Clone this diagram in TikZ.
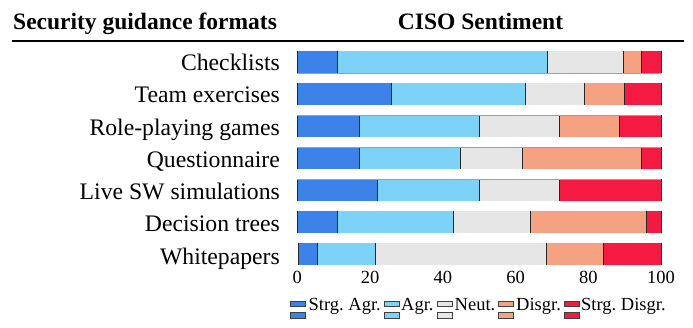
\documentclass[tikz,border=0pt]{standalone}
\usepackage{fontspec}
\setmainfont{Liberation Serif}
\frenchspacing

% Likert answer colours
\definecolor{sagr}{RGB}{61,130,232}
\definecolor{agr}{RGB}{124,211,247}
\definecolor{neut}{RGB}{229,230,229}
\definecolor{disgr}{RGB}{244,162,130}
\definecolor{sdisgr}{RGB}{245,26,66}

\begin{document}
\begin{tikzpicture}[x=1pt,y=-1pt,
  headtext/.style={inner sep=0pt,font=\fontsize{23.5}{28}\bfseries\selectfont},
  rowlabel/.style={anchor=base east,inner sep=0pt,font=\fontsize{23.7}{28}\selectfont},
  ticklabel/.style={anchor=base,inner sep=0pt,font=\fontsize{18.5}{22}\selectfont},
  legtext/.style={anchor=base west,inner sep=0pt,font=\fontsize{18.5}{22}\selectfont},
  sepline/.style={draw=black!85,line width=1pt},
  edgeline/.style={draw=gray!75,line width=0.9pt},
  legbox/.style={draw=black!75,line width=0.7pt}]
\useasboundingbox (0,0) rectangle (693,328);

% header
\node[headtext,anchor=base west] (hfmt) at (13,30) {Security guidance formats};
\node[headtext,anchor=base] (hciso) at (480.5,30) {CISO Sentiment};
\draw[line width=1.3pt] (12,41) -- (684,41);

% row labels
\foreach \name [count=\i from 0] in {Checklists,Team exercises,Role-playing games,Questionnaire,Live SW simulations,Decision trees,Whitepapers}
  \node[rowlabel] (row\i) at (280,{70.7+32.25*\i}) {\name};

% stacked bars, one unit = one percent
\begin{scope}[shift={(297.3,0)},x=3.637pt]
\foreach \s/\p/\q/\r/\t [count=\i from 0] in
  {0/11/68.8/89.8/94.6, 0/25.9/62.8/79/90, 0/17/50/72/88.7, 0/17/45/62/94.6,
   0/22/50/72/72, 0/11/43/64/96, 0.4/5.6/21.6/68.4/84.1}
{
  \pgfmathsetmacro\yt{62.2+32*\i-11.2}
  \pgfmathsetmacro\yb{62.2+32*\i+11.2}
  \fill[sagr]   (\s,\yt) rectangle (\p,\yb);
  \fill[agr]    (\p,\yt) rectangle (\q,\yb);
  \fill[neut]   (\q,\yt) rectangle (\r,\yb);
  \fill[disgr]  (\r,\yt) rectangle (\t,\yb);
  \fill[sdisgr] (\t,\yt) rectangle (100,\yb);
  \foreach \b in {\s,\p,\q,\r,\t,100}
    \draw[sepline] (\b,\yt) -- (\b,\yb);
}
% faint outline edges of some bars
\draw[edgeline] (0,73.4) -- (100,73.4);
\draw[edgeline] (0,115.2) -- (100,115.2);
\draw[edgeline] (0,147.3) -- (100,147.3);
\draw[edgeline] (0,179.3) -- (100,179.3);

% x tick labels
\foreach \v in {0,20,40,60,80,100}
  \node[ticklabel] (tick\v) at (\v,284) {\v};
\end{scope}

% legend
\foreach \bx/\tx/\col/\txt [count=\k] in
  {290/308.5/sagr/Strg. Agr., 384/401/agr/Agr., 437/454.5/neut/Neut.,
   498/516/disgr/Disgr., 564/581/sdisgr/Strg. Disgr.}
{
  \draw[legbox,fill=\col] (\bx,301) rectangle ++(15,5.5);
  \draw[legbox,fill=\col] (\bx,312) rectangle ++(15,6);
  \node[legtext] (leg\k) at (\tx,311) {\txt};
}
\end{tikzpicture}
\end{document}
